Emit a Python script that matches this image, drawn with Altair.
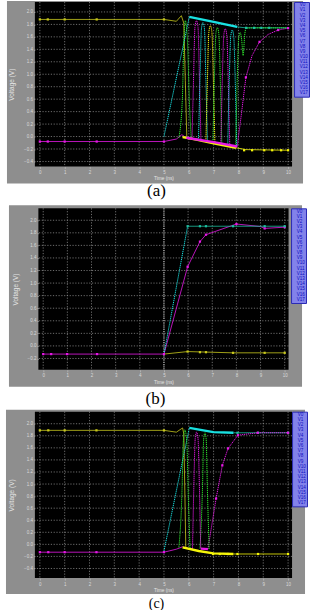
import altair as alt
import pandas as pd

# ---------------- shared axis values ----------------
x_ticks = [0, 1, 2, 3, 4, 5, 6, 7, 8, 9, 10]
y_ticks_13 = [2.0, 1.8, 1.6, 1.4, 1.2, 1.0, 0.8, 0.6, 0.4, 0.2, 0.0, -0.2, -0.4]
y_ticks_12 = [2.0, 1.8, 1.6, 1.4, 1.2, 1.0, 0.8, 0.6, 0.4, 0.2, 0.0, -0.2]
X_DOMAIN = [-0.2, 10.16]

legend_names = ["V0", "V1", "V2", "V3", "V4", "V5", "V6", "V7", "V8",
                "V9", "V10", "V11", "V12", "V13", "V14", "V15", "V16", "V17"]
legend_colors = ["#c8c81e", "#19e1e1", "#e619e6", "#2ee62e", "#f5f50a", "#1ebea0",
                 "#e619e6", "#19e1e1", "#f5f50a", "#2ee62e", "#e619e6", "#19e1e1",
                 "#f5f50a", "#2ee62e", "#e619e6", "#19e1e1", "#f5f50a", "#2ee62e"]

# ---------------- panel (a) ----------------
a_yel_top = [(0, 1.88), (5.0, 1.88), (5.5, 1.85), (5.7, 1.94), (5.8, 1.82), (5.86, 0.9), (5.92, -0.02)]
a_yel_bot_thick = [(5.75, -0.01), (6.3, -0.05), (7.0, -0.11), (7.9, -0.18)]
a_yel_bot_thin = [(7.9, -0.18), (8.3, -0.21), (10.0, -0.22)]
a_yel_top_marks = [(0, 1.88), (0.32, 1.88), (1.0, 1.88), (2.29, 1.88), (5.0, 1.88)]
a_yel_bot_marks = [(8.23, -0.22), (8.55, -0.22), (9.04, -0.22), (9.36, -0.22), (9.72, -0.22), (10.0, -0.22)]
a_cyan_ramp = [(5.0, 0.0), (6.02, 1.92)]
a_cyan_env = [(6.02, 1.92), (7.0, 1.84), (7.95, 1.76)]
a_teal_flat = [(7.95, 1.76), (8.3, 1.745), (10.0, 1.745)]
a_teal_marks = [(8.31, 1.745), (8.63, 1.745), (8.92, 1.745), (9.24, 1.745)]
a_mag_low = [(0, -0.08), (5.0, -0.08), (5.5, -0.04), (5.72, 0.03), (5.9, -0.02)]
a_mag_thick = [(5.9, -0.02), (7.0, -0.09), (7.95, -0.16)]
a_mag_rise = [(7.95, -0.16), (8.1, 0.3), (8.3, 0.95), (8.55, 1.3), (8.85, 1.52), (9.2, 1.64), (9.6, 1.71), (10.0, 1.74)]
a_mag_marks = [(0, -0.08), (0.32, -0.08), (1.0, -0.08), (2.29, -0.08), (5.0, -0.08),
               (8.3, 0.95), (8.85, 1.52), (9.6, 1.71), (10.0, 1.74)]
a_grn_0 = [(5.6, -0.02), (5.74, 0.6), (5.8, 1.5), (5.86, 1.86), (5.95, 1.5), (6.02, 0.6), (6.1, -0.04)]
a_arch_1 = [(6.13, -0.05), (6.19, 0.9), (6.25, 1.76), (6.31, 1.86), (6.37, 1.76), (6.43, 0.9), (6.49, -0.05)]
a_arch_2 = [(6.39, -0.06), (6.45, 0.9), (6.51, 1.73), (6.57, 1.83), (6.63, 1.73), (6.69, 0.9), (6.75, -0.07)]
a_arch_3 = [(6.69, -0.07), (6.75, 0.9), (6.81, 1.68), (6.87, 1.78), (6.93, 1.68), (6.99, 0.9), (7.05, -0.09)]
a_arch_4 = [(6.97, -0.09), (7.03, 0.9), (7.09, 1.65), (7.15, 1.75), (7.21, 1.65), (7.27, 0.9), (7.33, -0.11)]
a_arch_5 = [(7.29, -0.11), (7.35, 0.9), (7.41, 1.63), (7.47, 1.73), (7.53, 1.63), (7.59, 0.9), (7.65, -0.13)]
a_arch_6 = [(7.57, -0.13), (7.63, 0.9), (7.69, 1.61), (7.75, 1.71), (7.81, 1.61), (7.87, 0.9), (7.93, -0.15)]
a_arch_7 = [(7.89, -0.15), (7.95, 0.9), (8.01, 1.57), (8.07, 1.67), (8.13, 1.55), (8.19, 1.30),
            (8.25, 1.62), (8.31, 1.74), (8.6, 1.745), (10.0, 1.745)]

# ---------------- panel (b) ----------------
b_mag = [(0, -0.13), (5.0, -0.13), (5.98, 1.26), (6.49, 1.66), (6.74, 1.77), (8.0, 1.94),
         (9.0, 1.90), (9.17, 1.87), (10.0, 1.89)]
b_mag_marks = [(0, -0.13), (0.33, -0.13), (0.99, -0.13), (2.23, -0.13), (5.0, -0.13), (5.98, 1.26),
               (6.49, 1.66), (6.74, 1.77), (8.0, 1.94), (9.17, 1.87), (10.0, 1.89)]
b_cyan_ramp = [(5.0, -0.13), (5.98, 1.905)]
b_teal_flat = [(5.98, 1.905), (10.0, 1.905)]
b_teal_marks = [(5.98, 1.905), (6.49, 1.905), (6.74, 1.905), (7.86, 1.905), (9.17, 1.905), (10.0, 1.905)]
b_yel = [(5.0, -0.13), (5.98, -0.09), (7.86, -0.11), (10.0, -0.11)]
b_yel_marks = [(5.98, -0.09), (6.49, -0.10), (6.74, -0.10), (7.86, -0.11), (9.17, -0.11), (10.0, -0.11)]
b_bright_x = [5]

# ---------------- panel (c) ----------------
c_yel_top = [(0, 1.89), (5.0, 1.89), (5.5, 1.86), (5.75, 1.93), (5.8, 1.83), (5.84, 0.9), (5.88, -0.07)]
c_yel_bot_thick = [(5.75, -0.05), (6.4, -0.11), (6.99, -0.15), (7.8, -0.16)]
c_yel_bot_thin = [(7.8, -0.16), (10.0, -0.16)]
c_yel_top_marks = [(0, 1.89), (0.34, 1.89), (1.0, 1.89), (2.28, 1.89), (5.0, 1.89)]
c_yel_bot_marks = [(6.98, -0.16), (7.25, -0.16), (7.58, -0.16), (7.96, -0.16), (8.79, -0.16), (10.0, -0.16)]
c_cyan_ramp = [(5.0, -0.11), (6.02, 1.93)]
c_cyan_env = [(6.02, 1.93), (6.99, 1.86), (7.8, 1.85)]
c_teal_flat = [(7.8, 1.85), (10.0, 1.85)]
c_teal_marks = [(7.96, 1.85), (8.79, 1.85), (10.0, 1.85)]
c_mag_low = [(0, -0.13), (5.0, -0.13), (5.5, -0.08), (5.75, -0.04), (6.0, -0.07), (6.15, -0.07)]
c_mag_arch = [(6.15, -0.07), (6.2, 0.9), (6.26, 1.76), (6.31, 1.86), (6.37, 1.76), (6.43, 0.9), (6.48, -0.07)]
c_mag_thick = [(6.48, -0.07), (6.77, -0.08)]
c_mag_rise = [(6.77, -0.08), (7.1, 0.76), (7.35, 1.31), (7.58, 1.59), (7.98, 1.81), (8.78, 1.85), (10.0, 1.85)]
c_mag_marks = [(0, -0.13), (0.34, -0.13), (1.0, -0.13), (2.28, -0.13), (5.0, -0.13), (7.1, 0.76),
               (7.35, 1.31), (7.58, 1.59), (7.98, 1.81), (8.78, 1.85), (10.0, 1.85)]
c_grn_a = [(5.6, -0.05), (5.72, 0.8), (5.78, 1.7), (5.84, 1.9), (5.92, 1.7), (5.98, 0.8), (6.05, -0.06)]
c_grn_b = [(6.45, -0.07), (6.55, 0.9), (6.6, 1.75), (6.65, 1.85), (6.7, 1.75), (6.75, 0.9), (6.82, -0.08)]

captions = ["(a)", "(b)", "(c)"]

# ---------------- styling ----------------
GRAY = "#8e8e8e"
GRID = "#9c9c9c"
FONT = "Liberation Sans"


def to_df(traces):
    rows = []
    for name, sig, pts in traces:
        for i, (x, y) in enumerate(pts):
            rows.append({"x": x, "y": y, "sig": sig, "trace": name, "ord": i})
    return pd.DataFrame(rows)


def panel(W, H, ydom, yt, thin, dot, arches, thick, marks, cap, gray, cap_xy, cap_size, leg_x, bright=None):
    xs = alt.Scale(domain=X_DOMAIN, nice=False, zero=False)
    ys = alt.Scale(domain=ydom, nice=False, zero=False)
    cs = alt.Scale(domain=legend_names, range=legend_colors)
    leg = alt.Legend(orient="none", legendX=leg_x, legendY=0, title=None, direction="vertical",
                     symbolSize=0, symbolStrokeWidth=0, symbolOpacity=0, labelOffset=0,
                     labelFontSize=4.6, labelFont=FONT, labelColor="#1010c0",
                     fillColor="#8282ea", strokeColor="#2a2ab4", padding=1, rowPadding=0.2)
    xaxis = alt.Axis(values=x_ticks, format="d", grid=False, domain=False, zindex=1,
                     labelFontSize=4.5, labelColor="#dadada", labelFont=FONT, labelPadding=1,
                     tickColor="#c8c8c8", tickSize=2, tickWidth=0.6,
                     title="Time (ns)", titleFontSize=4.8, titleColor="#e6e6e6", titleFont=FONT,
                     titleFontWeight="normal", titleY=12.5, titleBaseline="middle")
    yaxis = alt.Axis(values=yt, format=".1f", grid=False, domain=False, zindex=1,
                     labelFontSize=4.5, labelColor="#dadada", labelFont=FONT, labelPadding=1,
                     tickColor="#c8c8c8", tickSize=1.5, tickWidth=0.6,
                     title="Voltage (V)", titleFontSize=6.5, titleColor="#e6e6e6", titleFont=FONT,
                     titleFontWeight="normal", titleX=-23, titleY=H / 2, titleAlign="center",
                     titleBaseline="middle")

    def X(f):
        return alt.X(f, scale=xs, axis=xaxis)

    def Y(f):
        return alt.Y(f, scale=ys, axis=yaxis)

    one = pd.DataFrame({"d": [0]})
    layers = [
        alt.Chart(one).mark_rect(color=GRAY).encode(
            x=alt.value(gray[0]), x2=alt.value(gray[1]), y=alt.value(gray[2]), y2=alt.value(gray[3])),
        alt.Chart(one).mark_rect(color="black").encode(
            x=alt.value(0), x2=alt.value(W), y=alt.value(0), y2=alt.value(H)),
        alt.Chart(pd.DataFrame({"t": x_ticks})).mark_rule(
            color=GRID, strokeDash=[1.2, 1.6], strokeWidth=0.7).encode(x=X("t:Q")),
        alt.Chart(pd.DataFrame({"t": yt})).mark_rule(
            color=GRID, strokeDash=[1.2, 1.6], strokeWidth=0.7).encode(y=Y("t:Q")),
    ]
    if bright:
        layers.append(alt.Chart(pd.DataFrame({"t": bright})).mark_rule(
            color="#f0f0f0", strokeDash=[1, 1.2], strokeWidth=0.9).encode(x=X("t:Q")))

    def enc():
        return dict(x=X("x:Q"), y=Y("y:Q"),
                    color=alt.Color("sig:N", scale=cs, legend=leg),
                    detail="trace:N", order="ord:Q")

    if thin:
        layers.append(alt.Chart(to_df(thin)).mark_line(strokeWidth=0.8).encode(**enc()))
    if dot:
        layers.append(alt.Chart(to_df(dot)).mark_line(strokeWidth=1.0, strokeDash=[1.2, 0.8]).encode(**enc()))
    if arches:
        layers.append(alt.Chart(to_df(arches)).mark_line(strokeWidth=1.0, strokeDash=[1.2, 0.8],
                                                         interpolate="monotone").encode(**enc()))
    if thick:
        layers.append(alt.Chart(to_df(thick)).mark_line(strokeWidth=2.4).encode(**enc()))
    if marks:
        layers.append(alt.Chart(to_df(marks)).mark_point(shape="square", filled=True, size=5, opacity=1).encode(
            x=X("x:Q"), y=Y("y:Q"), color=alt.Color("sig:N", scale=cs, legend=leg)))
    layers.append(alt.Chart(pd.DataFrame({"c": [cap]})).mark_text(
        font="Liberation Serif", fontSize=cap_size, color="black", align="center", baseline="middle").encode(
        x=alt.value(cap_xy[0]), y=alt.value(cap_xy[1]), text="c:N"))
    return alt.layer(*layers).properties(width=W, height=H)


pa = panel(
    258, 165, [-0.48, 2.16], y_ticks_13,
    thin=[("ytop", "V0", a_yel_top), ("ybot", "V4", a_yel_bot_thin), ("teal", "V5", a_teal_flat),
          ("mlow", "V2", a_mag_low)],
    dot=[("cramp", "V1", a_cyan_ramp), ("mrise", "V2", a_mag_rise)],
    arches=[("g0", "V3", a_grn_0), ("a1", "V6", a_arch_1), ("a2", "V7", a_arch_2), ("a3", "V8", a_arch_3),
            ("a4", "V9", a_arch_4), ("a5", "V10", a_arch_5), ("a6", "V11", a_arch_6), ("a7", "V13", a_arch_7)],
    thick=[("ybt", "V4", a_yel_bot_thick), ("mth", "V2", a_mag_thick), ("cenv", "V1", a_cyan_env)],
    marks=[("m1", "V0", a_yel_top_marks), ("m2", "V4", a_yel_bot_marks), ("m3", "V5", a_teal_marks),
           ("m4", "V2", a_mag_marks)],
    cap=captions[0], gray=(-28, 269, -1, 182), cap_xy=(122, 190), cap_size=17, leg_x=260)

pb = panel(
    251, 162, [-0.38, 2.19], y_ticks_12,
    thin=[("mag", "V2", b_mag), ("teal", "V5", b_teal_flat), ("yel", "V0", b_yel)],
    dot=[("cramp", "V1", b_cyan_ramp)],
    arches=[], thick=[],
    marks=[("m1", "V2", b_mag_marks), ("m2", "V5", b_teal_marks), ("m3", "V0", b_yel_marks)],
    cap=captions[1], gray=(-29.5, 264.5, -3, 179), cap_xy=(117.5, 191), cap_size=17, leg_x=253.5,
    bright=b_bright_x)

pc = panel(
    258, 167, [-0.56, 2.2], y_ticks_13,
    thin=[("ytop", "V0", c_yel_top), ("ybot", "V4", c_yel_bot_thin), ("teal", "V5", c_teal_flat),
          ("mlow", "V2", c_mag_low)],
    dot=[("cramp", "V1", c_cyan_ramp), ("mrise", "V2", c_mag_rise)],
    arches=[("ga", "V3", c_grn_a), ("gb", "V9", c_grn_b), ("march", "V6", c_mag_arch)],
    thick=[("ybt", "V4", c_yel_bot_thick), ("mth", "V2", c_mag_thick), ("cenv", "V1", c_cyan_env)],
    marks=[("m1", "V0", c_yel_top_marks), ("m2", "V4", c_yel_bot_marks), ("m3", "V5", c_teal_marks),
           ("m4", "V2", c_mag_marks)],
    cap=captions[2], gray=(-29, 271, -2, 183), cap_xy=(122, 193), cap_size=14, leg_x=258)

chart = alt.vconcat(pa, pb, pc, spacing=42, bounds="flush", center=True).resolve_scale(
    x="independent", y="independent", color="independent").resolve_legend(
    color="independent").properties(
    padding={"left": 6, "top": 0, "right": 0, "bottom": 0}, background="white").configure_view(strokeWidth=0)

chart.save("out.html", embed_options={"renderer": "svg", "actions": False})
